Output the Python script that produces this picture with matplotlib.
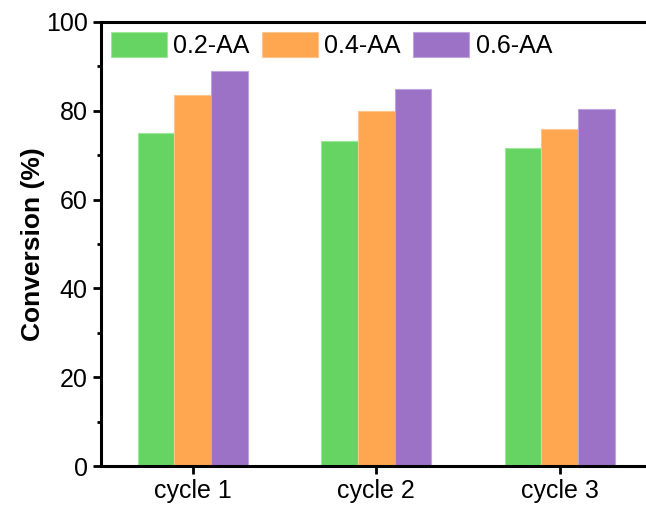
import matplotlib.pyplot as plt
import numpy as np
from matplotlib.ticker import MultipleLocator

plt.rcParams['font.family'] = ['Liberation Sans', 'DejaVu Sans']

cycles = ['cycle 1', 'cycle 2', 'cycle 3']
series = ['0.2-AA', '0.4-AA', '0.6-AA']
aa02 = [75.0, 73.3, 71.7]
aa04 = [83.5, 80.0, 76.0]
aa06 = [89.0, 85.0, 80.3]
colors = ['#66d462', '#fea650', '#9b72c6']
edges = ['#9be897', '#fec68e', '#bfa3df']

fig = plt.figure(figsize=(6.46, 5.08), dpi=100)
ax = fig.add_axes([101 / 646, 1 - 466 / 508, 1 - 101 / 646, (466 - 22) / 508])

x = np.arange(1, len(cycles) + 1)
w = 0.2
for i, vals in enumerate([aa02, aa04, aa06]):
    ax.bar(x + (i - 1) * w, vals, width=w, color=colors[i],
           edgecolor=edges[i], linewidth=0.8, label=series[i])

ax.set_xlim(0.5, 3.47)
ax.set_ylim(0, 100)
ax.set_xticks(x)
ax.set_xticklabels(cycles)
ax.yaxis.set_major_locator(MultipleLocator(20))
ax.yaxis.set_minor_locator(MultipleLocator(10))
ax.set_ylabel('Conversion (%)', fontsize=19, fontweight='bold', labelpad=1)

for s in ['left', 'bottom', 'top']:
    ax.spines[s].set_linewidth(2.2)
ax.spines['right'].set_visible(False)
ax.tick_params(axis='both', which='major', direction='out', length=5.5,
               width=2, labelsize=18, pad=4)
ax.tick_params(axis='y', which='minor', direction='out', length=3, width=2)
ax.tick_params(axis='x', which='minor', bottom=False)

ax.legend(loc='upper left', ncol=3, frameon=False, fontsize=18,
          handlelength=2.24, handleheight=1.15, handletextpad=0.25,
          columnspacing=0.5, borderaxespad=0.15, borderpad=0.25)

fig.savefig('out.png', dpi=100)
